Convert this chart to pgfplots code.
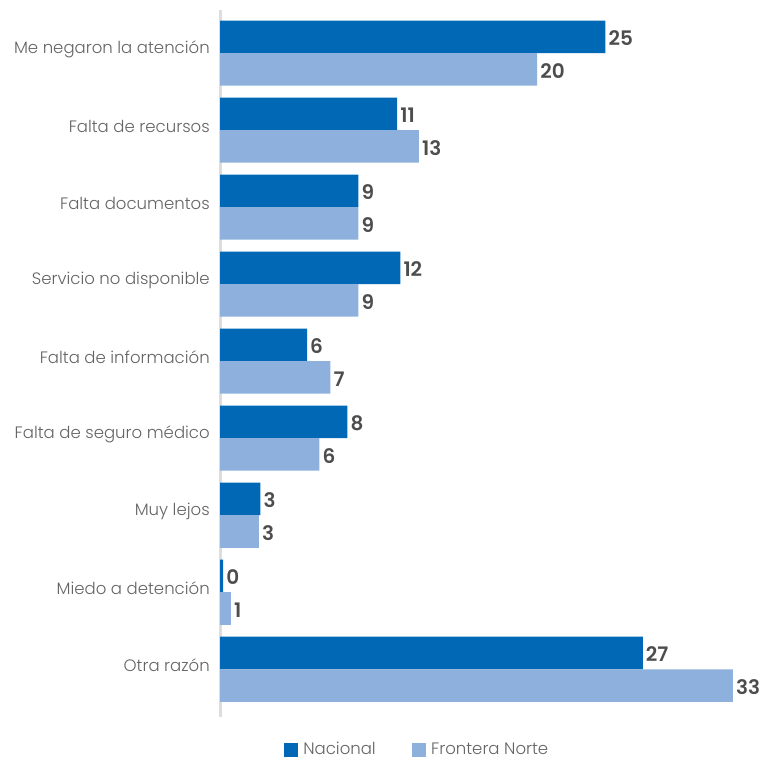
\documentclass[border=0pt]{standalone}
\usepackage{fontspec}
\setmainfont{Poppins}[UprightFont=* Light, BoldFont=* SemiBold]
\usepackage{pgfplots}
\pgfplotsset{compat=1.18}
\definecolor{nacional}{RGB}{0,104,180}
\definecolor{frontera}{RGB}{142,176,220}
\definecolor{labelgray}{RGB}{100,100,100}
\definecolor{valgray}{RGB}{77,77,77}
\definecolor{axisgray}{RGB}{221,221,221}
\begin{document}
\begin{tikzpicture}
\useasboundingbox (0pt,0pt) rectangle (574.5pt,-571.5pt);
\begin{axis}[
  at={(165pt,-537.75pt)}, anchor=south west,
  scale only axis, width=408pt, height=530.25pt,
  xbar, bar width=24.4pt,
  xmin=0, xmax=35, ymin=-0.62, ymax=8.56,
  axis x line=none,
  axis y line*=left,
  y axis line style={axisgray, line width=2.25pt},
  ytick={0,...,8},
  yticklabels={Otra razón, Miedo a detención, Muy lejos, Falta de seguro médico,
               Falta de información, Servicio no disponible, Falta documentos,
               Falta de recursos, Me negaron la atención},
  major tick length=0pt,
  yticklabel style={font=\fontsize{12.4}{15}\selectfont, text=labelgray,
                    anchor=east, inner sep=0pt, xshift=-7.5pt, yshift=3pt},
  point meta=explicit symbolic,
  nodes near coords,
  nodes near coords style={font=\fontsize{15}{18}\selectfont\bfseries,
                           text=valgray, anchor=west, inner sep=2.2pt, yshift=-1pt},
  legend columns=-1,
  legend image code/.code={\fill[#1] (0pt,-5.25pt) rectangle (10.5pt,5.25pt);},
  legend style={draw=none, at={(0.363,-0.046)}, anchor=center, inner sep=0pt,
                font=\fontsize{12.4}{15}\selectfont, text=labelgray,
                /tikz/every odd column/.append style={column sep=2pt},
                /tikz/every even column/.append style={column sep=25pt}},
]
\addplot[fill=nacional, draw=none, bar shift=12.2pt] coordinates {
  (24.8,8) [25] (11.4,7) [11] (8.9,6) [9] (11.6,5) [12] (5.6,4) [6]
  (8.2,3) [8] (2.6,2) [3] (0.2,1) [0] (27.2,0) [27]
};
\addplot[fill=frontera, draw=none, bar shift=-12.2pt] coordinates {
  (20.4,8) [20] (12.8,7) [13] (8.9,6) [9] (8.9,5) [9] (7.1,4) [7]
  (6.4,3) [6] (2.5,2) [3] (0.7,1) [1] (33,0) [33]
};
\legend{Nacional, Frontera Norte}
\end{axis}
\end{tikzpicture}
\end{document}
